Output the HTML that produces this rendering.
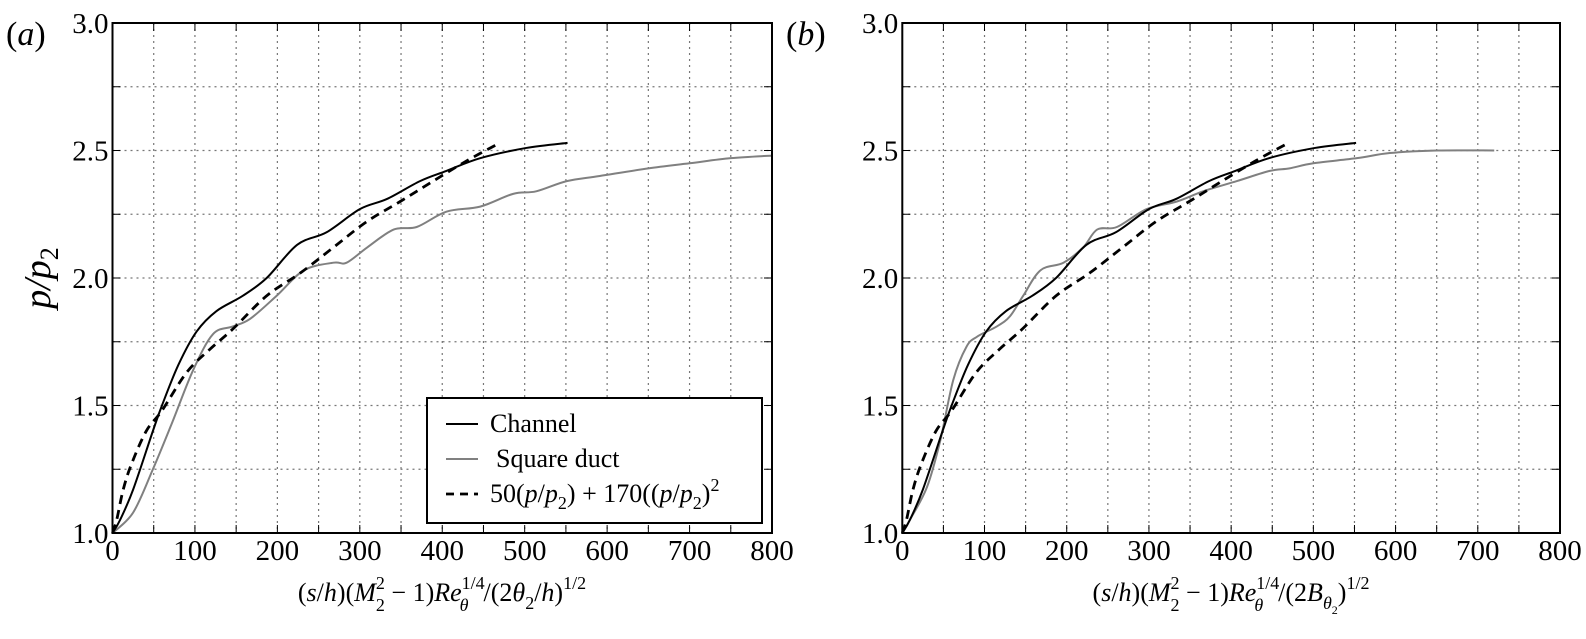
<!DOCTYPE html>
<html><head><meta charset="utf-8"><style>
html,body{margin:0;padding:0;background:#fff;}
svg{display:block;font-family:"Liberation Serif",serif;}
text{font-family:"Liberation Serif",serif;}
</style></head><body>
<svg id="fig" width="1586" height="639" viewBox="0 0 1586 639" font-family="Liberation Serif, serif">
<g id="pa"></g>
<g id="pb"></g>
<text x="6" y="45" font-size="34">(<tspan font-style="italic">a</tspan>)</text>
<text x="786" y="45" font-size="34">(<tspan font-style="italic">b</tspan>)</text>
<text transform="translate(50,278) rotate(-90)" text-anchor="middle" font-size="38" font-style="italic">p/p<tspan font-size="26" dy="8" font-style="normal">2</tspan></text>
<text x="442" y="601" text-anchor="middle" font-size="26">(<tspan font-style="italic">s</tspan>/<tspan font-style="italic">h</tspan>)(<tspan font-style="italic">M</tspan><tspan font-size="18" dy="-12">2</tspan><tspan font-size="18" dx="-9" dy="22">2</tspan><tspan dy="-10"> − 1)</tspan><tspan font-style="italic">Re</tspan><tspan font-size="18" dy="-12">1/4</tspan><tspan font-size="18" font-style="italic" dx="-25" dy="22">θ</tspan><tspan dx="15" dy="-10">/(2</tspan><tspan font-style="italic">θ</tspan><tspan font-size="18" dy="8">2</tspan><tspan dy="-8">/</tspan><tspan font-style="italic">h</tspan>)<tspan font-size="18" dy="-12">1/2</tspan></text>
<text x="1231" y="601" text-anchor="middle" font-size="26">(<tspan font-style="italic">s</tspan>/<tspan font-style="italic">h</tspan>)(<tspan font-style="italic">M</tspan><tspan font-size="18" dy="-12">2</tspan><tspan font-size="18" dx="-9" dy="22">2</tspan><tspan dy="-10"> − 1)</tspan><tspan font-style="italic">Re</tspan><tspan font-size="18" dy="-12">1/4</tspan><tspan font-size="18" font-style="italic" dx="-25" dy="22">θ</tspan><tspan dx="15" dy="-10">/(2</tspan><tspan font-style="italic">B</tspan><tspan font-size="18" font-style="italic" dy="8">θ</tspan><tspan font-size="12" dy="5">2</tspan><tspan dy="-13">)</tspan><tspan font-size="18" dy="-12">1/2</tspan></text>
</svg>
<script>
const xTicks=[0,100,200,300,400,500,600,700,800];
const yTicks=[1.0,1.5,2.0,2.5,3.0];
const chX=[0,9,25,49,60,80,102,126,158,187,224,260,300,333,373,405,446,502,552];
const chY=[1.0,1.05,1.17,1.40,1.5,1.66,1.79,1.87,1.93,2.0,2.13,2.18,2.27,2.31,2.38,2.42,2.47,2.51,2.53];
const sqAX=[0,25,49,72,98,122,146,167,199,232,268,284,309,341,369,405,446,486,514,551,591,650,700,750,800];
const sqAY=[1.0,1.08,1.25,1.43,1.64,1.78,1.81,1.84,1.93,2.03,2.06,2.06,2.12,2.19,2.2,2.26,2.28,2.33,2.34,2.38,2.40,2.43,2.45,2.47,2.48];
const sqBX=[0,9,30,46,62,78,91,115,131,147,168,196,220,237,261,297,334,366,407,447,471,500,553,593,650,720];
const sqBY=[1.0,1.05,1.18,1.36,1.60,1.73,1.77,1.81,1.85,1.93,2.03,2.06,2.12,2.19,2.2,2.27,2.30,2.34,2.38,2.42,2.43,2.45,2.47,2.49,2.50,2.50];
const fitX=[0,5,13,23,41,60,90,118,146,187,228,268,308,349,389,430,470];
const fitY=[1.0,1.05,1.17,1.27,1.40,1.48,1.63,1.72,1.80,1.93,2.02,2.12,2.22,2.30,2.38,2.46,2.53];

const NS='http://www.w3.org/2000/svg';
function mk(parent,tag,attrs){const e=document.createElementNS(NS,tag);for(const k in attrs)e.setAttribute(k,attrs[k]);parent.appendChild(e);return e;}
function smooth(pts){let d='M'+pts[0][0]+','+pts[0][1];for(let i=0;i<pts.length-1;i++){const p0=pts[Math.max(i-1,0)],p1=pts[i],p2=pts[i+1],p3=pts[Math.min(i+2,pts.length-1)];const c1=[p1[0]+(p2[0]-p0[0])/6,p1[1]+(p2[1]-p0[1])/6],c2=[p2[0]-(p3[0]-p1[0])/6,p2[1]-(p3[1]-p1[1])/6];d+=' C'+c1+' '+c2+' '+p2;}return d;}
function panel(g,x0,x1,series,key){
  const y0=533,y1=23;
  const sx=v=>x0+(v-0)/(800-0)*(x1-x0);
  const sy=v=>y0-(v-1)/(3-1)*(y0-y1);
  for(let v=50;v<800;v+=50){const l=mk(g,'line',{x1:sx(v),x2:sx(v),y1:y1,y2:y0,stroke:'#777','stroke-width':1.2,'stroke-dasharray':'2,4'});
    
    }
  for(let v=1.25;v<3;v+=0.25){const l=mk(g,'line',{x1:x0,x2:x1,y1:sy(v),y2:sy(v),stroke:'#777','stroke-width':1.2,'stroke-dasharray':'2,4'});
    
    }
  for(let v=50;v<800;v+=50){mk(g,'line',{x1:sx(v),x2:sx(v),y1:y0,y2:y0-8,stroke:'#000','stroke-width':1});mk(g,'line',{x1:sx(v),x2:sx(v),y1:y1,y2:y1+8,stroke:'#000','stroke-width':1});}
  for(let v=1.25;v<3;v+=0.25){mk(g,'line',{x1:x0,x2:x0+8,y1:sy(v),y2:sy(v),stroke:'#000','stroke-width':1});mk(g,'line',{x1:x1,x2:x1-8,y1:sy(v),y2:sy(v),stroke:'#000','stroke-width':1});}
  xTicks.forEach(v=>{const t=mk(g,'text',{x:sx(v),y:560,'text-anchor':'middle','font-size':29,'font-family':'Liberation Serif, serif'});t.textContent=v;
    
    });
  yTicks.forEach(v=>{const t=mk(g,'text',{x:x0-4,y:sy(v)+10,'text-anchor':'end','font-size':29,'font-family':'Liberation Serif, serif'});t.textContent=v.toFixed(1);
    
    });
  series.forEach(s=>{const pts=s.x.map((v,i)=>[sx(v),sy(s.y[i])]);const p=mk(g,'path',{d:smooth(pts),fill:'none',stroke:s.c,'stroke-width':s.w});if(s.dash)p.setAttribute('stroke-dasharray',s.dash);
    
    });
  const fr=mk(g,'rect',{x:x0,y:y1,width:x1-x0,height:y0-y1,fill:'none',stroke:'#000','stroke-width':2});
  
  
}
panel(document.getElementById('pa'),112.5,772,[
 {x:sqAX,y:sqAY,c:'#808080',w:2,n:'square-duct-line-a'},
 {x:fitX,y:fitY,c:'#000',w:2.8,dash:'9,6',n:'fit-line-a'},
 {x:chX,y:chY,c:'#000',w:2,n:'channel-line-a'}],'a');
panel(document.getElementById('pb'),902.3,1560,[
 {x:sqBX,y:sqBY,c:'#808080',w:2,n:'square-duct-line-b'},
 {x:fitX,y:fitY,c:'#000',w:2.8,dash:'9,6',n:'fit-line-b'},
 {x:chX,y:chY,c:'#000',w:2,n:'channel-line-b'}],'b');
const fig=document.getElementById('fig');
const lg=mk(fig,'g',{});


mk(lg,'rect',{x:427,y:398,width:335,height:125,fill:'#fff',stroke:'#000','stroke-width':2});
const items=[['#000',null,2],['#808080',null,2],['#000','8,6',2.8]];
items.forEach((it,i)=>{const y=424+i*35;mk(lg,'line',{x1:446,x2:478,y1:y,y2:y,stroke:it[0],'stroke-width':it[2],'stroke-dasharray':it[1]||'none'});});
const t1=mk(lg,'text',{x:490,y:432,'font-size':26,'font-family':'Liberation Serif, serif'});t1.textContent='Channel';


const t2=mk(lg,'text',{x:496,y:467,'font-size':26,'font-family':'Liberation Serif, serif'});t2.textContent='Square duct';


const t3=mk(lg,'text',{x:490,y:502,'font-size':26,'font-family':'Liberation Serif, serif'});
t3.innerHTML='50(<tspan font-style="italic">p</tspan>/<tspan font-style="italic">p</tspan><tspan font-size="18" dy="7">2</tspan><tspan dy="-7">) + 170((</tspan><tspan font-style="italic">p</tspan>/<tspan font-style="italic">p</tspan><tspan font-size="18" dy="7">2</tspan><tspan dy="-7">)</tspan><tspan font-size="18" dy="-11">2</tspan>';


</script>
</body></html>
